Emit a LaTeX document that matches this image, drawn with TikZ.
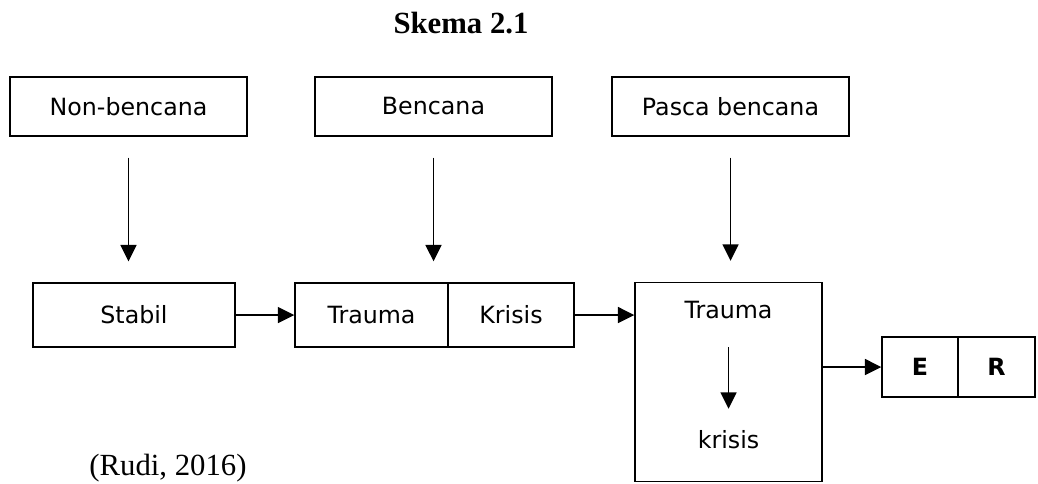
\documentclass[tikz,border=0pt]{standalone}
\usepackage{fontspec}
\setmainfont{Liberation Serif}
\newfontfamily\boxfont{DejaVu Sans}
\usepackage{tikz}
\usetikzlibrary{arrows.meta}

\begin{document}
\begin{tikzpicture}[font=\boxfont\fontsize{13.5}{16}\selectfont,
  box/.style={draw, line width=0.8pt, inner sep=0pt, minimum height=#1},
  box/.default=1.28cm,
  arr/.style={-{Triangle[length=0.33cm,width=0.32cm]}, line width=1pt}]
  \useasboundingbox (0,0) rectangle (20.76,-9.66);
  \node[anchor=base, font=\fontsize{17.5}{20}\selectfont\rmfamily\bfseries] (title) at (9.22,-0.66) {Skema 2.1};
  \node[box=1.18cm, minimum width=4.74cm] (nonb) at (2.57,-2.13) {Non-bencana};
  \node[box=1.18cm, minimum width=4.74cm] (benc) at (8.67,-2.13) {Bencana};
  \node[box=1.18cm, minimum width=4.74cm] (pasca) at (14.61,-2.13) {Pasca bencana};
  \node[box, minimum width=4.04cm] (stabil) at (2.68,-6.30) {Stabil};
  \node[box, minimum width=3.06cm] (trauma) at (7.43,-6.30) {Trauma};
  \node[box, minimum width=2.52cm] (krisis) at (10.22,-6.30) {Krisis};
  \node[box=3.98cm, minimum width=3.74cm] (big) at (14.57,-7.64) {};
  \node[anchor=base] (tin) at (14.57,-6.36) {Trauma};
  \node[anchor=base] (kin) at (14.57,-8.96) {krisis};
  \node[box=1.2cm, minimum width=1.52cm, font=\boxfont\fontsize{13.5}{16}\selectfont\bfseries] (e) at (18.40,-7.34) {E};
  \node[box=1.2cm, minimum width=1.54cm, font=\boxfont\fontsize{13.5}{16}\selectfont\bfseries] (r) at (19.93,-7.34) {R};
  \node[anchor=base, font=\fontsize{17.5}{20}\selectfont\rmfamily] (rudi) at (3.36,-9.5) {(Rudi, 2016)};
  \draw[arr, shorten <=0.42cm, shorten >=0.42cm] (nonb.south) -- (nonb.south |- stabil.north);
  \draw[arr, shorten <=0.42cm, shorten >=0.42cm] (benc.south) -- (benc.south |- trauma.north);
  \draw[arr, shorten <=0.42cm, shorten >=0.42cm] (pasca.south) -- (pasca.south |- big.north);
  \draw[arr] (stabil.east) -- (trauma.west);
  \draw[arr] (krisis.east) -- (krisis.east -| big.west);
  \draw[arr] (big.east |- e.west) -- (e.west);
  \draw[arr, shorten <=0.45cm, shorten >=0.3cm] (tin.south) -- (kin.north);
\end{tikzpicture}
\end{document}
